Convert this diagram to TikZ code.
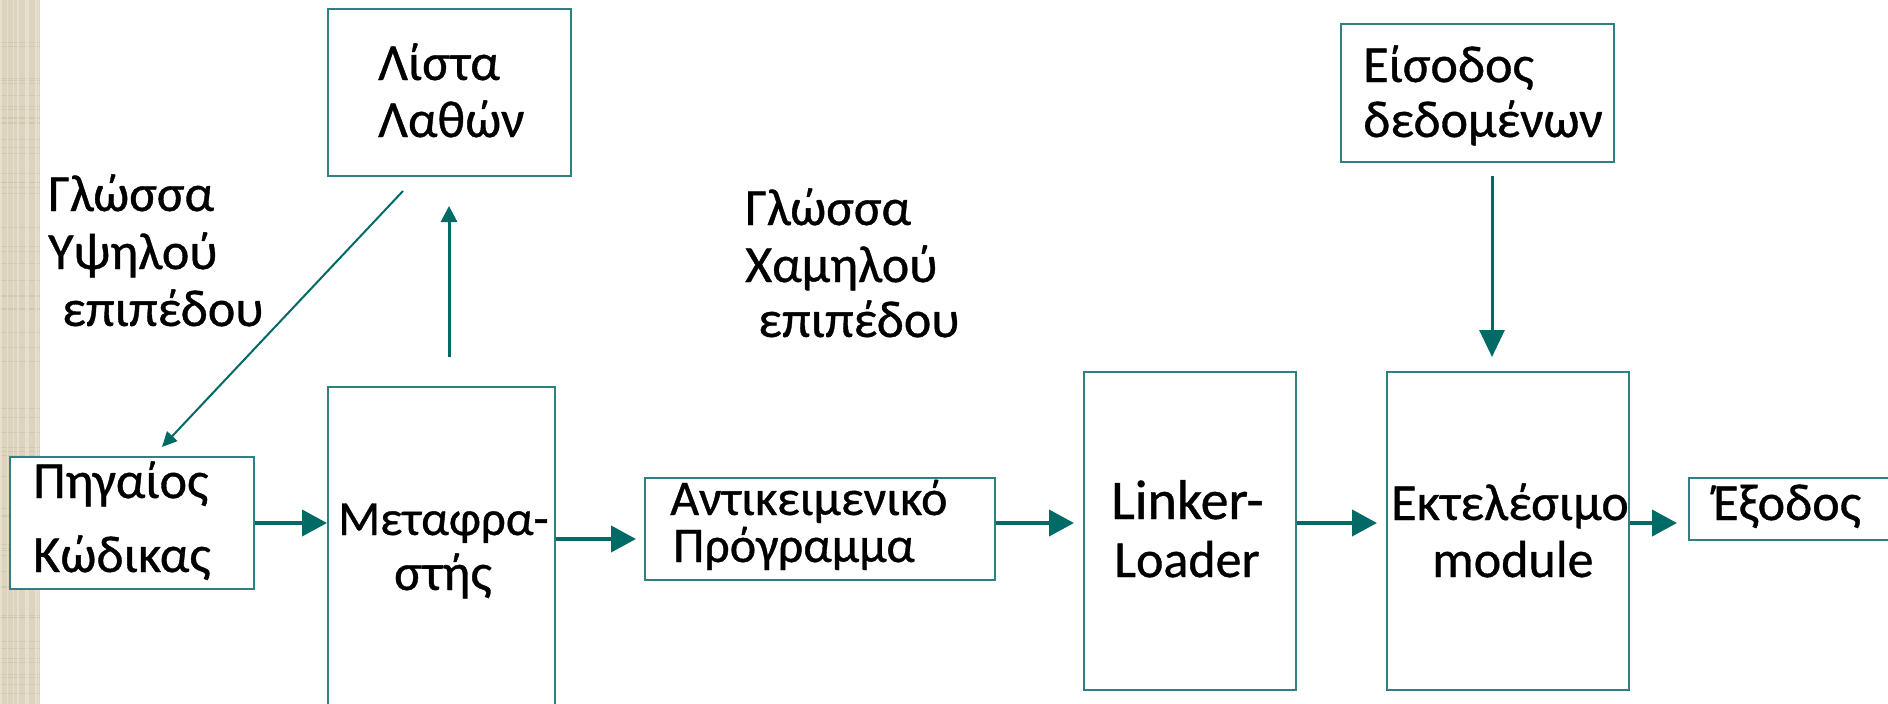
\documentclass[tikz,border=0pt]{standalone}
\usepackage{fontspec}
\setmainfont{Carlito}[FakeBold=0.7]
\usetikzlibrary{arrows.meta}
\definecolor{boxc}{HTML}{2F8080}
\definecolor{arrc}{HTML}{006A66}
\definecolor{stripc}{HTML}{DDD4BE}
\definecolor{stripd}{HTML}{C9BEA4}
\definecolor{stripl}{HTML}{EAE4D4}
\begin{document}
\begin{tikzpicture}[x=1pt,y=-1pt,
  box/.style={draw=boxc, line width=2pt, inner sep=0pt, fill=white},
  txt/.style={anchor=base west, inner sep=0pt, font=\fontsize{52}{60}\selectfont},
  arr/.style={draw=arrc, line width=4pt, -{Triangle[length=25pt,width=26pt]}},
  arrup/.style={draw=arrc, line width=3pt, -{Triangle[length=16pt,width=16pt]}},
  arrdn/.style={draw=arrc, line width=3pt, -{Triangle[length=27pt,width=25pt]}},
  arrdiag/.style={draw=arrc, line width=2pt, -{Triangle[length=15pt,width=14pt]}}]
\useasboundingbox (0,0) rectangle (1888,704);
\clip (0,0) rectangle (1888,704);
% textured strip
\fill[stripc] (0,0) rectangle (40,704);
\pgfmathsetseed{7}
\foreach \i in {1,...,60}{
  \pgfmathsetmacro{\yy}{rnd*704}
  \draw[stripd, line width=0.8pt, opacity=0.6] (0,\yy) -- (40,\yy);
}
\foreach \i in {1,...,14}{
  \pgfmathsetmacro{\xx}{rnd*40}
  \draw[stripl, line width=1pt, opacity=0.7] (\xx,0) -- (\xx,704);
}
% boxes
\node[box, minimum width=243pt, minimum height=167pt] (lista) at (449.5,92.5) {};
\node[box, minimum width=244pt, minimum height=132pt] (pig) at (132,523) {};
\node[box, minimum width=227pt, minimum height=343pt] (meta) at (441.5,558.5) {};
\node[box, minimum width=350pt, minimum height=102pt] (antik) at (820,529) {};
\node[box, minimum width=212pt, minimum height=318pt] (linker) at (1190,531) {};
\node[box, minimum width=242pt, minimum height=318pt] (ektel) at (1508,531) {};
\node[box, minimum width=273pt, minimum height=138pt] (eisodos) at (1477.5,93) {};
\node[box, minimum width=211pt, minimum height=62pt] (exodos) at (1794.5,509) {};
% texts
\node[txt] (t1) at (378,80) {Λίστα};
\node[txt] (t2) at (378,137) {Λαθών};
\node[txt] (t3) at (48,211) {Γλώσσα};
\node[txt] (t4) at (48,269) {Υψηλού};
\node[txt] (t5) at (62,326) {επιπέδου};
\node[txt] (t6) at (33,498) {Πηγαίος};
\node[txt] (t7) at (33,572) {Κώδικας};
\node[txt, font=\fontsize{49}{60}\selectfont] (t8) at (338,535) {Μεταφρα-};
\node[txt] (t9) at (394,590) {στής};
\node[txt, font=\fontsize{50}{60}\selectfont] (t10) at (670,515) {Αντικειμενικό};
\node[txt, font=\fontsize{50}{60}\selectfont] (t11) at (673,562) {Πρόγραμμα};
\node[txt] (t12) at (745,225) {Γλώσσα};
\node[txt] (t13) at (745,282) {Χαμηλού};
\node[txt] (t14) at (758,337) {επιπέδου};
\node[txt, font=\fontsize{56}{60}\selectfont] (t15) at (1111,519) {Linker-};
\node[txt] (t16) at (1114,577) {Loader};
\node[txt] (t17) at (1391,520) {Εκτελέσιμο};
\node[txt] (t18) at (1432,577) {module};
\node[txt] (t19) at (1713,520) {Έξοδος};
\node[txt] (t20) at (1363,82) {Είσοδος};
\node[txt] (t21) at (1363,137) {δεδομένων};
% connector ends
\coordinate (a2) at (636,539);
\coordinate (a3) at (1074,523);
\coordinate (a4) at (1377,523);
\coordinate (a5) at (1677,523);
\coordinate (m0) at (449,357);
\coordinate (m1) at (449,206);
\coordinate (e0) at (1492,176);
\coordinate (e1) at (1492,357);
\coordinate (d0) at (403,191);
\coordinate (d1) at (162,447);
% connectors
\draw[arr] (pig.east) -- (pig.east -| meta.west);
\draw[arr] (meta.east |- a2) -- (a2);
\draw[arr] (antik.east |- a3) -- (a3);
\draw[arr] (linker.east |- a4) -- (a4);
\draw[arr] (ektel.east |- a5) -- (a5);
\draw[arrup] (m0) -- (m1);
\draw[arrdn] (e0) -- (e1);
\draw[arrdiag] (d0) -- (d1);
\end{tikzpicture}
\end{document}
